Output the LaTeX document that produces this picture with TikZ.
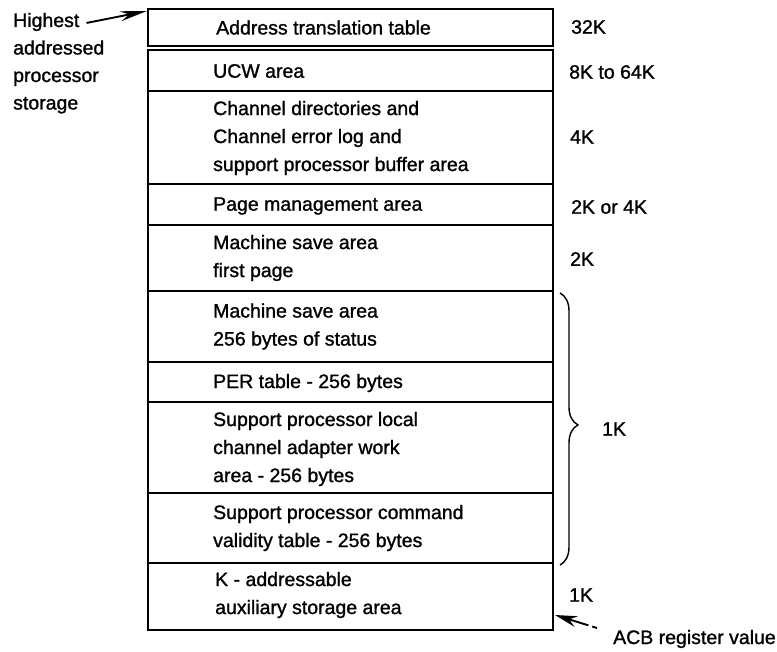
\documentclass[tikz,border=0pt]{standalone}
\usepackage{fontspec}
\setmainfont{Liberation Sans}[FakeBold=1.2]
\newfontfamily\mapfont{Liberation Sans}[FakeBold=1.2]
\usetikzlibrary{arrows.meta,decorations.pathreplacing}
\begin{document}
\begin{tikzpicture}[x=1pt,y=-1pt,
  frame/.style={line width=2.8pt},
  area/.style={anchor=west, align=left, inner sep=0pt,
    font=\mapfont\fontsize{19.5}{28}\selectfont},
  size/.style={anchor=west, inner sep=0pt, font=\mapfont\fontsize{19.5}{28}\selectfont},
  side/.style={anchor=base west, inner sep=0pt, font=\mapfont\fontsize{19.5}{28}\selectfont},
  pointer/.style={line width=1.9pt}]
\useasboundingbox (0,0) rectangle (777,652);

% storage map frames
\draw[frame] (148,9) rectangle (553,46);
\draw[frame] (148,50) rectangle (553,630);
\foreach \y in {91,184,225,291,362,402,493,563}
  \draw[frame] (148,\y) -- (553,\y);

% area names
\node[area] (atbl) at (216,27.5) {Address translation table};
\node[area] (ucw)  at (213,71) {UCW area};
\node[area] (chan) at (213,138) {Channel directories and\\Channel error log and\\support processor buffer area};
\node[area] (page) at (213,206) {Page management area};
\node[area] (msa1) at (213,258) {Machine save area\\first page};
\node[area] (msa2) at (213,326.5) {Machine save area\\256 bytes of status};
\node[area] (per)  at (213,383) {PER table - 256 bytes};
\node[area] (spl)  at (213,449) {Support processor local\\channel adapter work\\area - 256 bytes};
\node[area] (spc)  at (213,528) {Support processor command\\validity table - 256 bytes};
\node[area] (kaux) at (215,595) {K - addressable\\auxiliary storage area};

% sizes
\node[size] (s1) at (571,27)  {32K};
\node[size] (s2) at (569,72)  {8K to 64K};
\node[size] (s3) at (570,137) {4K};
\node[size] (s4) at (571,207) {2K or 4K};
\node[size] (s5) at (570,259) {2K};
\node[size] (s6) at (602,429) {1K};
\node[size] (s7) at (569,595) {1K};

% brace over the four 256-byte areas
\coordinate (btop) at (560,293);
\coordinate (bbot) at (560,565);
\draw[line width=1.4pt, decorate,
  decoration={brace, amplitude=18pt, aspect=0.485}] (btop) -- (bbot);

% top of storage
\node[side] (hi1) at (13,27)    {Highest};
\node[side] (hi2) at (13,54.5)  {addressed};
\node[side] (hi3) at (13,82)    {processor};
\node[side] (hi4) at (13,109.5) {storage};
\coordinate (topcorner) at (147,11);
\draw[pointer, -{Stealth[length=27pt,width=10pt]}]
  ([xshift=7pt,yshift=-1pt]hi1.east) -- (topcorner);

% ACB register value
\node[side] (acb) at (613,644) {ACB register value};
\coordinate (acbtail) at (597,628);
\coordinate (acbmid) at (584,624);
\coordinate (acbtip) at (555,615);
\draw[pointer, dash pattern=on 5pt off 4pt] (acbtail) -- (acbmid);
\draw[pointer, -{Stealth[length=22pt,width=11pt]}] (acbmid) -- (acbtip);
\end{tikzpicture}
\end{document}
